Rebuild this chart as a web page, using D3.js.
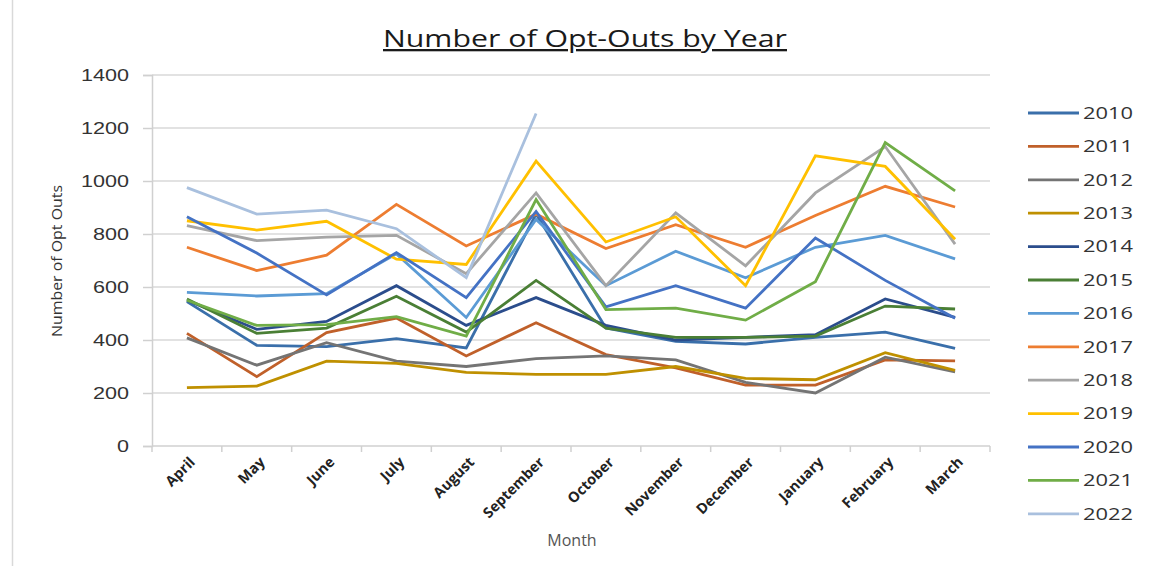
<!DOCTYPE html>
<html>
<head>
<meta charset="utf-8">
<script src="https://cdn.jsdelivr.net/npm/d3@7"></script>
<style>
  html, body { margin: 0; padding: 0; background: #fff; }
  svg { display: block; font-family: "Open Sans", "DejaVu Sans", sans-serif; }
</style>
</head>
<body>
<svg id="chart" width="1154" height="571"></svg>
<script>
// Opt-outs per month, one line per year
const months = ["April", "May", "June", "July", "August", "September",
  "October", "November", "December", "January", "February", "March"];
const years = ["2010", "2011", "2012", "2013", "2014", "2015", "2016",
  "2017", "2018", "2019", "2020", "2021", "2022"];
const yTicks = [0, 200, 400, 600, 800, 1000, 1200, 1400];

const v2010 = [545, 380, 375, 405, 370, 875, 445, 395, 385, 410, 430, 368];
const v2011 = [425, 262, 428, 483, 340, 465, 345, 295, 230, 230, 325, 321];
const v2012 = [408, 305, 390, 320, 300, 330, 340, 325, 240, 200, 335, 280];
const v2013 = [220, 226, 320, 312, 278, 270, 270, 300, 255, 250, 352, 285];
const v2014 = [550, 440, 470, 605, 455, 560, 455, 400, 410, 420, 555, 485];
const v2015 = [555, 425, 445, 565, 430, 625, 445, 410, 410, 415, 528, 517];
const v2016 = [580, 566, 575, 725, 485, 855, 605, 735, 635, 750, 795, 706];
const v2017 = [750, 662, 720, 912, 755, 875, 745, 835, 750, 870, 980, 902];
const v2018 = [832, 775, 788, 795, 650, 955, 605, 880, 680, 955, 1130, 762];
const v2019 = [850, 815, 848, 705, 685, 1075, 770, 865, 605, 1095, 1055, 780];
const v2020 = [865, 728, 570, 730, 560, 885, 525, 605, 520, 785, 625, 482];
const v2021 = [550, 455, 458, 488, 415, 930, 515, 520, 475, 620, 1145, 963];
const v2022 = [975, 875, 890, 820, 635, 1255, null, null, null, null, null, null];

const colors = ["#3a6faa", "#c0602a", "#747474", "#bf9000", "#2b4d8c", "#4a7f35",
  "#5b9bd5", "#ed7d31", "#a5a5a5", "#ffc000", "#4472c4", "#70ad47", "#a9c0de"];

const seriesValues = [v2010, v2011, v2012, v2013, v2014, v2015, v2016,
  v2017, v2018, v2019, v2020, v2021, v2022];
const series = years.map((y, i) => ({ year: y, values: seriesValues[i], color: colors[i] }));

const svg = d3.select("#chart");
const plot = { left: 152, right: 990, top: 75, bottom: 446 };

// faint outer frame on the left
svg.append("line")
  .attr("x1", 12.5).attr("x2", 12.5)
  .attr("y1", 0).attr("y2", 566)
  .attr("stroke", "#d9d9d9").attr("stroke-width", 1.5);

const x = d3.scaleBand().domain(months).range([plot.left, plot.right]).padding(0);
const y = d3.scaleLinear().domain([0, 1400]).range([plot.bottom, plot.top]);
const cx = (m) => x(m) + x.bandwidth() / 2;

// gridlines
svg.append("g")
  .selectAll("line")
  .data(yTicks.filter((d) => d > 0))
  .join("line")
  .attr("x1", plot.left).attr("x2", plot.right)
  .attr("y1", (d) => y(d)).attr("y2", (d) => y(d))
  .attr("stroke", "#d9d9d9").attr("stroke-width", 1.5);

// y axis
const yAxisG = svg.append("g")
  .attr("transform", `translate(${plot.left},0)`)
  .call(d3.axisLeft(y).tickValues(yTicks).tickFormat(d3.format("d")).tickSize(9).tickPadding(14));
yAxisG.select(".domain").attr("stroke", "#d0d0d0").attr("stroke-width", 1.5);
yAxisG.selectAll(".tick line").attr("stroke", "#d0d0d0").attr("stroke-width", 1.5);
yAxisG.selectAll(".tick text")
  .attr("fill", "#333")
  .style("font-size", "16px")
  .attr("textLength", (d) => String(d).length * 12)
  .attr("lengthAdjust", "spacingAndGlyphs");

// x axis line + boundary ticks
svg.append("line")
  .attr("x1", plot.left).attr("x2", plot.right)
  .attr("y1", plot.bottom).attr("y2", plot.bottom)
  .attr("stroke", "#d0d0d0").attr("stroke-width", 1.5);
const bounds = months.map((m) => x(m)).concat([plot.right]);
svg.append("g")
  .selectAll("line")
  .data(bounds)
  .join("line")
  .attr("x1", (d) => d).attr("x2", (d) => d)
  .attr("y1", plot.bottom).attr("y2", plot.bottom + 6)
  .attr("stroke", "#d0d0d0").attr("stroke-width", 1.5);

// month labels, slanted
svg.append("g")
  .selectAll("text")
  .data(months)
  .join("text")
  .attr("transform", (d) => `translate(${cx(d) + 9},${plot.bottom + 17}) rotate(-45)`)
  .attr("text-anchor", "end")
  .attr("fill", "#222")
  .style("font-size", "14.5px")
  .style("font-weight", 700)
  .text((d) => d);

// lines
const line = d3.line()
  .defined((d) => d.v != null)
  .x((d) => cx(d.m))
  .y((d) => y(d.v));

svg.append("g")
  .selectAll("path")
  .data(series)
  .join("path")
  .attr("fill", "none")
  .attr("stroke", (d) => d.color)
  .attr("stroke-width", 2.8)
  .attr("stroke-linejoin", "miter")
  .attr("d", (d) => line(months.map((m, i) => ({ m, v: d.values[i] }))));

// title
svg.append("text")
  .attr("x", 585).attr("y", 47)
  .attr("text-anchor", "middle")
  .attr("fill", "#1a1a1a")
  .style("font-size", "23px")
  .style("text-decoration", "underline")
  .attr("textLength", 404)
  .attr("lengthAdjust", "spacingAndGlyphs")
  .text("Number of Opt-Outs by Year");

// axis titles
svg.append("text")
  .attr("x", 572).attr("y", 546)
  .attr("text-anchor", "middle")
  .attr("fill", "#555")
  .style("font-size", "16px")
  .text("Month");

svg.append("text")
  .attr("transform", "translate(62,261) rotate(-90)")
  .attr("text-anchor", "middle")
  .attr("fill", "#333")
  .style("font-size", "14px")
  .attr("textLength", 152)
  .attr("lengthAdjust", "spacingAndGlyphs")
  .text("Number of Opt Outs");

// legend
const legend = svg.append("g")
  .selectAll("g")
  .data(series)
  .join("g")
  .attr("transform", (d, i) => `translate(1028,${113 + i * 33.4})`);
legend.append("line")
  .attr("x1", 0).attr("x2", 51)
  .attr("stroke", (d) => d.color)
  .attr("stroke-width", 2.8);
legend.append("text")
  .attr("x", 55).attr("dy", "0.36em")
  .attr("fill", "#333")
  .style("font-size", "16px")
  .attr("textLength", 50)
  .attr("lengthAdjust", "spacingAndGlyphs")
  .text((d) => d.year);
</script>
</body>
</html>
